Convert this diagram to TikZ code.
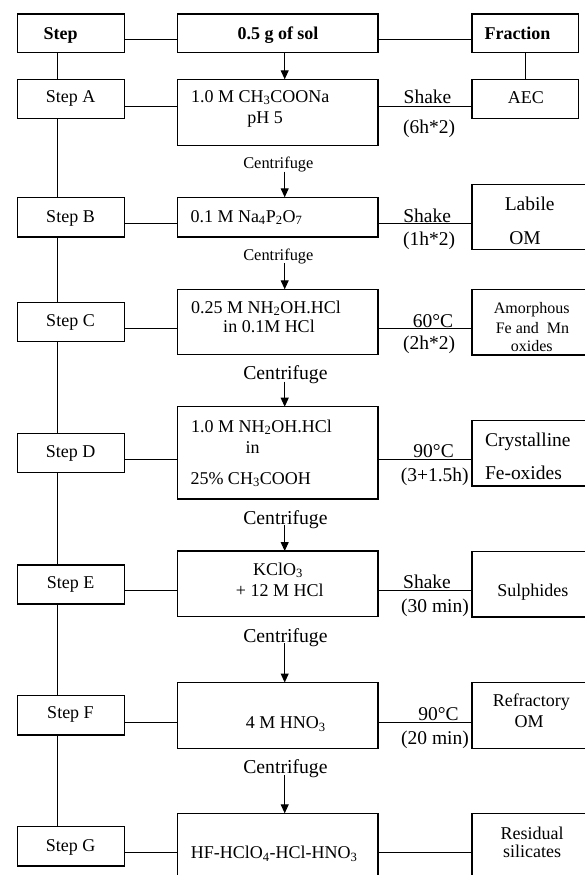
\documentclass[tikz,border=0pt]{standalone}
\usepackage{fontspec}
\setmainfont{Liberation Serif}
\usetikzlibrary{arrows.meta,fit}
\newcommand\mkbox[5]{\path (#2,#3) coordinate (#1-nw) (#4,#5) coordinate (#1-se);
  \node[box, fit=(#1-nw)(#1-se)] (#1) {};}
\begin{document}
\begin{tikzpicture}[x=1pt,y=-1pt,
  box/.style={draw, line width=1.1pt, inner sep=0pt, outer sep=0pt},
  conn/.style={line width=1pt},
  arr/.style={line width=1pt, -{Triangle[length=9pt,width=8pt]}},
  txt/.style={inner sep=0pt, outer sep=0pt, anchor=base, font=\fontsize{18}{21}\selectfont},
  txtl/.style={txt, anchor=base west},
  cond/.style={txt, font=\fontsize{19.5}{22}\selectfont},
  big/.style={txt, font=\fontsize{19.5}{22}\selectfont},
  bigl/.style={big, anchor=base west},
  sml/.style={txt, font=\fontsize{16}{19}\selectfont},
  cfs/.style={inner sep=0pt, outer sep=0pt, anchor=base west, font=\fontsize{16.4}{19}\selectfont},
  cfb/.style={inner sep=0pt, outer sep=0pt, anchor=base west, font=\fontsize{19.7}{22}\selectfont},
  hdr/.style={txt, font=\fontsize{18}{21}\selectfont\bfseries}]
\useasboundingbox (0,0) rectangle (585,875);
\clip (0,0) rectangle (585,875);
% boxes
\mkbox{hS}{17.2}{14}{124.2}{52.7}
\mkbox{hM}{177.2}{14}{378}{52.7}
\mkbox{hF}{472}{14}{578.3}{52.7}
\mkbox{sA}{17.2}{79.3}{124.2}{118.3}
\mkbox{mA}{177.2}{79.3}{378}{145.7}
\mkbox{fA}{472}{79.3}{578.3}{118.3}
\mkbox{sB}{17.2}{197.3}{124.2}{237}
\mkbox{mB}{177.2}{197.3}{378}{237}
\mkbox{fB}{472}{184.3}{600}{249.7}
\mkbox{sC}{17.2}{302.7}{124.2}{341.7}
\mkbox{mC}{177.2}{289.3}{378}{354.3}
\mkbox{fC}{472}{289.3}{600}{355}
\mkbox{sD}{17.2}{433.3}{124.2}{472.7}
\mkbox{mD}{177.2}{406.7}{378}{499}
\mkbox{fD}{472}{420.7}{600}{486}
\mkbox{sE}{17.2}{565}{124.2}{604}
\mkbox{mE}{177.2}{551}{378}{616.7}
\mkbox{fE}{472}{551.3}{600}{617}
\mkbox{sF}{17.2}{695.7}{124.2}{735}
\mkbox{mF}{177.2}{682.5}{378}{748.3}
\mkbox{fF}{472}{682.7}{600}{748.3}
\mkbox{sG}{17.2}{826.7}{124.2}{866}
\mkbox{mG}{177.2}{813.3}{378}{900}
\mkbox{fG}{472}{813.3}{600}{900}
% helper coordinates
\coordinate (lx) at (57.3,0);
\coordinate (rx) at (525,0);
\coordinate (ax) at (284.7,0);
\coordinate (yH) at (0,40);
\coordinate (yA) at (0,106);
\coordinate (yB) at (0,223.7);
\coordinate (yC) at (0,328.5);
\coordinate (yD) at (0,459.3);
\coordinate (yE) at (0,590);
\coordinate (yF) at (0,722.3);
\coordinate (yG) at (0,852.7);
% horizontal connectors
\draw[conn] (hS.east |- yH) -- (hM.west |- yH);
\draw[conn] (hM.east |- yH) -- (hF.west |- yH);
\foreach \r in {A,B,C,D,E,F,G}{
  \draw[conn] (s\r.east |- y\r) -- (m\r.west |- y\r);
  \draw[conn] (m\r.east |- y\r) -- (f\r.west |- y\r);
}
% left vertical line
\draw[conn] (hS.south -| lx) -- (sA.north -| lx);
\draw[conn] (sA.south -| lx) -- (sB.north -| lx);
\draw[conn] (sB.south -| lx) -- (sC.north -| lx);
\draw[conn] (sC.south -| lx) -- (sD.north -| lx);
\draw[conn] (sD.south -| lx) -- (sE.north -| lx);
\draw[conn] (sE.south -| lx) -- (sF.north -| lx);
\draw[conn] (sF.south -| lx) -- (sG.north -| lx);
% right vertical line
\draw[conn] (hF.south -| rx) -- (fA.north -| rx);
% arrows
\coordinate (c1s) at (284.7,171.7);
\coordinate (c2s) at (284.7,263.3);
\coordinate (c3s) at (284.7,381.7);
\coordinate (c4s) at (284.7,525);
\coordinate (c5s) at (284.7,643);
\coordinate (c6s) at (284.7,775);
\draw[arr] (hM.south -| ax) -- (mA.north -| ax);
\draw[arr] (c1s) -- (c1s |- mB.north);
\draw[arr] (c2s) -- (c2s |- mC.north);
\draw[arr] (c3s) -- (c3s |- mD.north);
\draw[arr] (c4s) -- (c4s |- mE.north);
\draw[arr] (c5s) -- (c5s |- mF.north);
\draw[arr] (c6s) -- (c6s |- mG.north);
% centrifuge labels
\node[cfs] (cf1) at (243.3,168) {Centrifuge};
\node[cfs] (cf2) at (243.3,260) {Centrifuge};
\node[cfb] (cf3) at (243.3,379) {Centrifuge};
\node[cfb] (cf4) at (243.3,524) {Centrifuge};
\node[cfb] (cf5) at (243.3,642) {Centrifuge};
\node[cfb] (cf6) at (243.3,773.5) {Centrifuge};
% header texts
\node[hdr] (tS) at (60.6,39.5) {Step};
\node[hdr] (tM) at (278,39.5) {0.5 g of sol};
\node[hdr] (tF) at (517.5,39.5) {Fraction};
% step labels
\node[txt] (tA) at (70.5,102) {Step A};
\node[txt] (tB) at (70.5,222) {Step B};
\node[txt] (tC) at (70.5,326.7) {Step C};
\node[txt] (tD) at (70.5,457.7) {Step D};
\node[txt] (tE) at (70.5,588.7) {Step E};
\node[txt] (tFF) at (70.5,718.7) {Step F};
\node[txt] (tG) at (70.7,851.7) {Step G};
% reagent texts
\node[txtl] (rA1) at (191,102) {1.0 M CH\textsubscript{3}COONa};
\node[txt] (rA2) at (265,123) {pH 5};
\node[txtl] (rB1) at (190.5,222) {0.1 M Na\textsubscript{4}P\textsubscript{2}O\textsubscript{7}};
\node[txtl] (rC1) at (191,313.3) {0.25 M NH\textsubscript{2}OH.HCl};
\node[txt] (rC2) at (269,332.7) {in 0.1M HCl};
\node[txtl] (rD1) at (191,432) {1.0 M NH\textsubscript{2}OH.HCl};
\node[txt] (rD2) at (252.6,453) {in};
\node[txtl] (rD3) at (190.5,484) {25\% CH\textsubscript{3}COOH};
\node[txt] (rE1) at (278,575) {KClO\textsubscript{3}};
\node[txt] (rE2) at (279.8,596) {+ 12 M HCl};
\node[txt] (rF1) at (285.8,728.5) {4 M HNO\textsubscript{3}};
\node[txt] (rG1) at (274.2,858.5) {HF-HClO\textsubscript{4}-HCl-HNO\textsubscript{3}};
% conditions
\node[cond] (kA1) at (427.5,103) {Shake};
\node[cond] (kA2) at (429,133) {(6h*2)};
\node[cond] (kB1) at (427.2,222.5) {Shake};
\node[cond] (kB2) at (429,245.5) {(1h*2)};
\node[cond] (kC1) at (433,327.5) {60°C};
\node[cond] (kC2) at (429,349) {(2h*2)};
\node[cond] (kD1) at (433.6,457.5) {90°C};
\node[cond] (kD2) at (434.7,481.5) {(3+1.5h)};
\node[cond] (kE1) at (427,588.5) {Shake};
\node[cond] (kE2) at (435,612) {(30 min)};
\node[cond] (kF1) at (438.4,720) {90°C};
\node[cond] (kF2) at (435,744) {(20 min)};
% fractions
\node[txt] (fa1) at (525.8,103.5) {AEC};
\node[big] (fb1) at (529.7,210.5) {Labile};
\node[big] (fb2) at (525,244.5) {OM};
\node[sml] (fc1) at (531.7,313) {Amorphous};
\node[sml] (fc2) at (532.5,333.5) {Fe and~ Mn};
\node[sml] (fc3) at (531.7,351) {oxides};
\node[bigl] (fd1) at (485,446) {Crystalline};
\node[bigl] (fd2) at (485,479) {Fe-oxides};
\node[txt] (fe1) at (532.8,596) {Sulphides};
\node[txt] (ff1) at (531.3,706.5) {Refractory};
\node[txt] (ff2) at (529,727.5) {OM};
\node[txt] (fg1) at (532,839.3) {Residual};
\node[txt] (fg2) at (532,857.5) {silicates};
\end{tikzpicture}
\end{document}
